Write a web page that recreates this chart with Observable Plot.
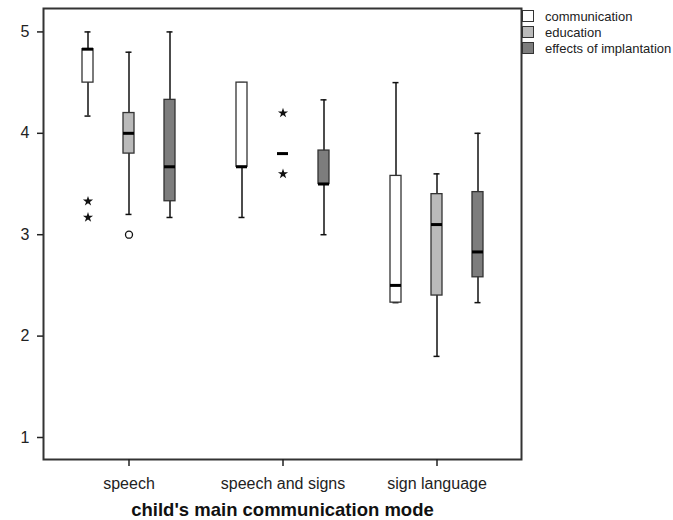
<!DOCTYPE html>
<html>
<head>
<meta charset="utf-8">
<script src="https://cdn.jsdelivr.net/npm/d3@7"></script>
<script src="https://cdn.jsdelivr.net/npm/@observablehq/plot@0.6"></script>
<style>
  html, body { margin: 0; padding: 0; background: #fff; }
  #wrap { position: relative; width: 673px; height: 520px; font-family: "Liberation Sans", Arial, sans-serif; }
  #legend { position: absolute; left: 522px; top: 8px; font-size: 13px; color: #222; white-space: nowrap; }
  .row { display: flex; align-items: center; height: 16px; }
  .sw { width: 10px; height: 10px; border: 1px solid #333; margin-right: 11px; box-sizing: content-box; }
</style>
</head>
<body>
<div id="wrap"><div id="legend"></div></div>
<script>
// Categories
const groups = ["speech", "speech and signs", "sign language"];
const series = ["communication", "education", "effects of implantation"];
const seriesColors = ["#ffffff", "#bababa", "#7d7d7d"];

// Box statistics, group-major order: for each group, communication / education / effects
const lowWhisker  = [4.17, 3.20, 3.17,  3.17, 3.80, 3.00,  2.33, 1.80, 2.33];
const q1          = [4.50, 3.80, 3.33,  3.67, 3.80, 3.50,  2.33, 2.40, 2.58];
const median      = [4.83, 4.00, 3.67,  3.67, 3.80, 3.50,  2.50, 3.10, 2.83];
const q3          = [4.83, 4.20, 4.33,  4.50, 3.80, 3.83,  3.58, 3.40, 3.42];
const highWhisker = [5.00, 4.80, 5.00,  4.50, 3.80, 4.33,  4.50, 3.60, 4.00];

// Outliers (o) and extreme values (*)
const outlierGroup  = ["speech", "speech", "speech", "speech and signs", "speech and signs"];
const outlierSeries = ["communication", "communication", "education", "education", "education"];
const outlierValue  = [3.33, 3.17, 3.00, 4.20, 3.60];
const outlierKind   = ["extreme", "extreme", "outlier", "extreme", "extreme"];

// Y ticks and labels
const yTicks = [1, 2, 3, 4, 5];
const xLabel = "child's main communication mode";

const boxes = groups.flatMap((g, gi) => series.map((s, si) => {
  const k = gi * series.length + si;
  return {group: g, series: s, low: lowWhisker[k], q1: q1[k], median: median[k], q3: q3[k], high: highWhisker[k]};
}));
const outliers = outlierValue.map((v, i) => ({group: outlierGroup[i], series: outlierSeries[i], value: v, kind: outlierKind[i]}));

const offset = 41;
const marks = [];
series.forEach((s, si) => {
  const dx = (si - 1) * offset;
  const b = boxes.filter(d => d.series === s);
  const o = outliers.filter(d => d.series === s);
  marks.push(
    Plot.ruleX(b, {x: "group", y1: "low", y2: "high", dx, stroke: "#111", strokeWidth: 1.5}),
    Plot.tickY(b, {x: "group", y: "low", dx, insetLeft: 2.5, insetRight: 2.5, stroke: "#111", strokeWidth: 1.5}),
    Plot.tickY(b, {x: "group", y: "high", dx, insetLeft: 2.5, insetRight: 2.5, stroke: "#111", strokeWidth: 1.5}),
    Plot.barY(b, {x: "group", y1: "q1", y2: "q3", dx, fill: "series", stroke: "#333", strokeWidth: 1.3}),
    Plot.tickY(b, {x: "group", y: "median", dx, stroke: "#000", strokeWidth: 3}),
    Plot.dot(o.filter(d => d.kind === "extreme"), {x: "group", y: "value", dx, symbol: "star", r: 3.2, fill: "#111", stroke: "none"}),
    Plot.dot(o.filter(d => d.kind === "outlier"), {x: "group", y: "value", dx, symbol: "circle", r: 3.5, fill: "#fff", stroke: "#111", strokeWidth: 1.3})
  );
});

const chart = Plot.plot({
  width: 673,
  height: 520,
  marginLeft: 43,
  marginRight: 152,
  marginTop: 8,
  marginBottom: 61,
  style: {fontFamily: "'Liberation Sans', Arial, sans-serif", fontSize: "16px", color: "#222", background: "#fff"},
  x: {type: "band", domain: groups, paddingInner: 0.929, paddingOuter: 0.507, label: null},
  y: {domain: [0.783, 5.231], label: null},
  color: {type: "ordinal", domain: series, range: seriesColors},
  marks: [
    ...marks,
    Plot.frame({stroke: "#333", strokeWidth: 2}),
    Plot.axisY({ticks: yTicks, tickFormat: d => String(d), tickSize: 6, tickPadding: 8, label: null, strokeWidth: 1.5, fontSize: 16}),
    Plot.axisX({tickSize: 7, tickPadding: 11, label: null, strokeWidth: 1.5, fontSize: 16}),
    Plot.text([xLabel], {frameAnchor: "bottom", dy: 56, fontWeight: "bold", fontSize: 18.5, fill: "#111"})
  ]
});
document.getElementById("wrap").prepend(chart);

const legend = document.getElementById("legend");
series.forEach((s, i) => {
  const row = document.createElement("div");
  row.className = "row";
  const sw = document.createElement("div");
  sw.className = "sw";
  sw.style.background = seriesColors[i];
  const t = document.createElement("span");
  t.textContent = s;
  row.append(sw, t);
  legend.append(row);
});
</script>
</body>
</html>
